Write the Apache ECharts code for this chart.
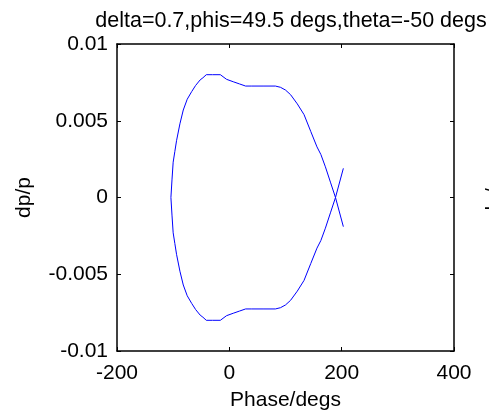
<!DOCTYPE html>
<html>
<head>
<meta charset="utf-8">
<script src="https://cdn.jsdelivr.net/npm/echarts@6/dist/echarts.min.js"></script>
<style>
html,body{margin:0;padding:0;background:#fff;}
#chart{width:489px;height:412px;}
</style>
</head>
<body>
<div id="chart"></div>
<script>
var titleText = 'delta=0.7,phis=49.5 degs,theta=-50 degs';
var xLabel = 'Phase/degs';
var yLabel = 'dp/p';
var xTicks = [-200, 0, 200, 400];
var yTicks = [-0.01, -0.005, 0, 0.005, 0.01];

// trajectory in phase space (degrees, dp/p)
var phase = [
  203, 189, 180, 171, 163, 156, 145, 133, 121, 109, 100, 91, 82, 60, 40, 29, 18, 7, -5, -16, -30, -41, -47, -52, -60, -67, -75, -82, -88, -94, -97, -100, -102, -104,
  -102, -100, -97, -94, -88, -82, -75, -67, -60, -52, -47, -41, -30, -16, -5, 7, 18, 29, 40, 60, 82, 91, 100, 109, 121, 133, 145, 156, 163, 171, 180, 189, 203
];
var dp = [
  -0.0019, 0, 0.001, 0.002, 0.0028, 0.0033, 0.0043, 0.0054, 0.0061, 0.0067, 0.0070, 0.00718, 0.00726, 0.00726, 0.00726, 0.00726, 0.0074, 0.00754, 0.0077, 0.0080, 0.0080, 0.0080, 0.0078, 0.00766, 0.0073, 0.0069, 0.0064, 0.0057, 0.0048, 0.0037, 0.0030, 0.0023, 0.0012, 0,
  -0.0012, -0.0023, -0.0030, -0.0037, -0.0048, -0.0057, -0.0064, -0.0069, -0.0073, -0.00766, -0.0078, -0.0080, -0.0080, -0.0080, -0.0077, -0.00754, -0.0074, -0.00726, -0.00726, -0.00726, -0.00726, -0.00718, -0.0070, -0.0067, -0.0061, -0.0054, -0.0043, -0.0033, -0.0028, -0.002, -0.001, 0, 0.0019
];

var pts = phase.map(function (x, i) { return [x, dp[i]]; });
var FONT = 'Liberation Sans';
var FS = 21;

function fmtY(v) {
  var r = Math.round(v * 1000) / 1000;
  return String(r);
}

var chart = echarts.init(document.getElementById('chart'), null, {renderer: 'canvas'});
var tickStyle = {show: true, inside: true, length: 4, lineStyle: {color: '#000', width: 1}};
var lineStyleAx = {show: true, onZero: false, lineStyle: {color: '#000', width: 1.5}};
chart.setOption({
  animation: false,
  backgroundColor: '#fff',
  title: {
    text: titleText,
    left: 286, top: 5, textAlign: 'center',
    textStyle: {fontFamily: FONT, fontSize: 21.5, fontWeight: 'normal', color: '#000'}
  },
  grid: {left: 117, top: 44, width: 337, height: 307, show: false, containLabel: false, outerBoundsMode: 'none'},
  xAxis: [{
    type: 'value', min: xTicks[0], max: xTicks[xTicks.length - 1], interval: 200,
    position: 'bottom',
    axisLine: lineStyleAx, axisTick: tickStyle, splitLine: {show: false},
    axisLabel: {fontFamily: FONT, fontSize: FS, color: '#000', margin: 12},
    name: xLabel, nameLocation: 'middle', nameGap: 39,
    nameTextStyle: {fontFamily: FONT, fontSize: FS, color: '#000'}
  }, {
    type: 'value', min: xTicks[0], max: xTicks[xTicks.length - 1], interval: 200,
    position: 'top',
    axisLine: lineStyleAx, axisTick: tickStyle, splitLine: {show: false},
    axisLabel: {show: false}
  }],
  yAxis: [{
    type: 'value', min: yTicks[0], max: yTicks[yTicks.length - 1], interval: 0.005,
    position: 'left',
    axisLine: lineStyleAx, axisTick: tickStyle, splitLine: {show: false},
    axisLabel: {fontFamily: FONT, fontSize: FS, color: '#000', margin: 9, formatter: fmtY},
    name: yLabel, nameLocation: 'middle', nameGap: 82, nameRotate: 90,
    nameTextStyle: {fontFamily: FONT, fontSize: FS, color: '#000'}
  }, {
    type: 'value', min: yTicks[0], max: yTicks[yTicks.length - 1], interval: 0.005,
    position: 'right',
    axisLine: lineStyleAx, axisTick: tickStyle, splitLine: {show: false},
    axisLabel: {show: false}
  }],
  graphic: [{
    type: 'text', x: 494, y: 197, rotation: Math.PI / 2,
    style: {text: yLabel, fontFamily: FONT, fontSize: FS, fill: '#000', align: 'center', verticalAlign: 'middle'}
  }],
  series: [{
    type: 'line', xAxisIndex: 0, yAxisIndex: 0,
    data: pts, showSymbol: false, symbol: 'none', smooth: false,
    lineStyle: {color: '#0000ff', width: 1}
  }]
});
</script>
</body>
</html>
